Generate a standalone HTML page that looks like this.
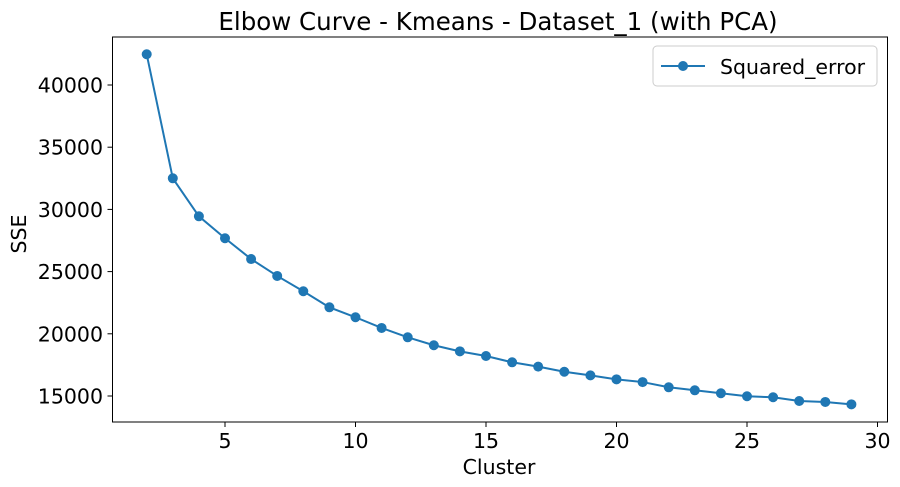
<!DOCTYPE html>
<html><head><meta charset="utf-8"><style>
body{margin:0;background:#fff;}
svg{display:block;font-family:"DejaVu Sans","Liberation Sans",sans-serif;}
</style></head><body>
<svg id="chart" width="900" height="487">
<text x="498" y="30" font-size="24.5" text-anchor="middle">Elbow Curve - Kmeans - Dataset_1 (with PCA)</text>
<g id="axes"></g>
<g id="series"></g>
<rect x="112.5" y="37" width="775" height="385" fill="none" stroke="#000" stroke-width="1"/>
<text x="499" y="474" font-size="20.5" text-anchor="middle">Cluster</text>
<text transform="translate(26,234) rotate(-90)" font-size="20.5" text-anchor="middle">SSE</text>
<g>
<rect x="653" y="46" width="224" height="40" rx="4" fill="#fff" stroke="#ccc"/>
<line x1="661" y1="66" x2="705" y2="66" stroke="#1f77b4" stroke-width="2"/>
<circle cx="683" cy="66" r="5" fill="#1f77b4"/>
<text x="720" y="74" font-size="20.5">Squared_error</text>
</g>
</svg>
<script>
const clusters=[2,3,4,5,6,7,8,9,10,11,12,13,14,15,16,17,18,19,20,21,22,23,24,25,26,27,28,29];
const sse=[42470,32500,29445,27680,26010,24650,23420,22130,21330,20470,19720,19080,18590,18215,17710,17360,16950,16660,16340,16120,15700,15460,15220,14980,14900,14600,14520,14330];
const xTicks=[5,10,15,20,25,30];
const yTicks=[15000,20000,25000,30000,35000,40000];
const NS="http://www.w3.org/2000/svg";
function xs(c){return 225+(c-5)*26.1;}
function ys(v){return 396-(v-15000)*0.01244;}
const axes=document.getElementById('axes'),ser=document.getElementById('series');
function mk(t,a,p){const e=document.createElementNS(NS,t);for(const k in a)e.setAttribute(k,a[k]);p.appendChild(e);return e;}
xTicks.forEach(t=>{
 const l=mk('line',{x1:xs(t),x2:xs(t),y1:422,y2:427,stroke:'#000'},axes);
 
 
 const tx=mk('text',{x:xs(t),y:448,'font-size':20.5,'text-anchor':'middle'},axes);tx.textContent=t;
 
 
});
yTicks.forEach(t=>{
 const l=mk('line',{x1:107.5,x2:112.5,y1:ys(t),y2:ys(t),stroke:'#000'},axes);
 
 
 const tx=mk('text',{x:103,y:ys(t)+7.5,'font-size':20.5,'text-anchor':'end'},axes);tx.textContent=t;
 
 
});
const pl=mk('polyline',{points:clusters.map((c,i)=>xs(c)+','+ys(sse[i])).join(' '),fill:'none',stroke:'#1f77b4','stroke-width':2},ser);


clusters.forEach((c,i)=>{
 const p=mk('circle',{cx:xs(c),cy:ys(sse[i]),r:5,fill:'#1f77b4'},ser);
 
 
});
</script>
</body></html>
